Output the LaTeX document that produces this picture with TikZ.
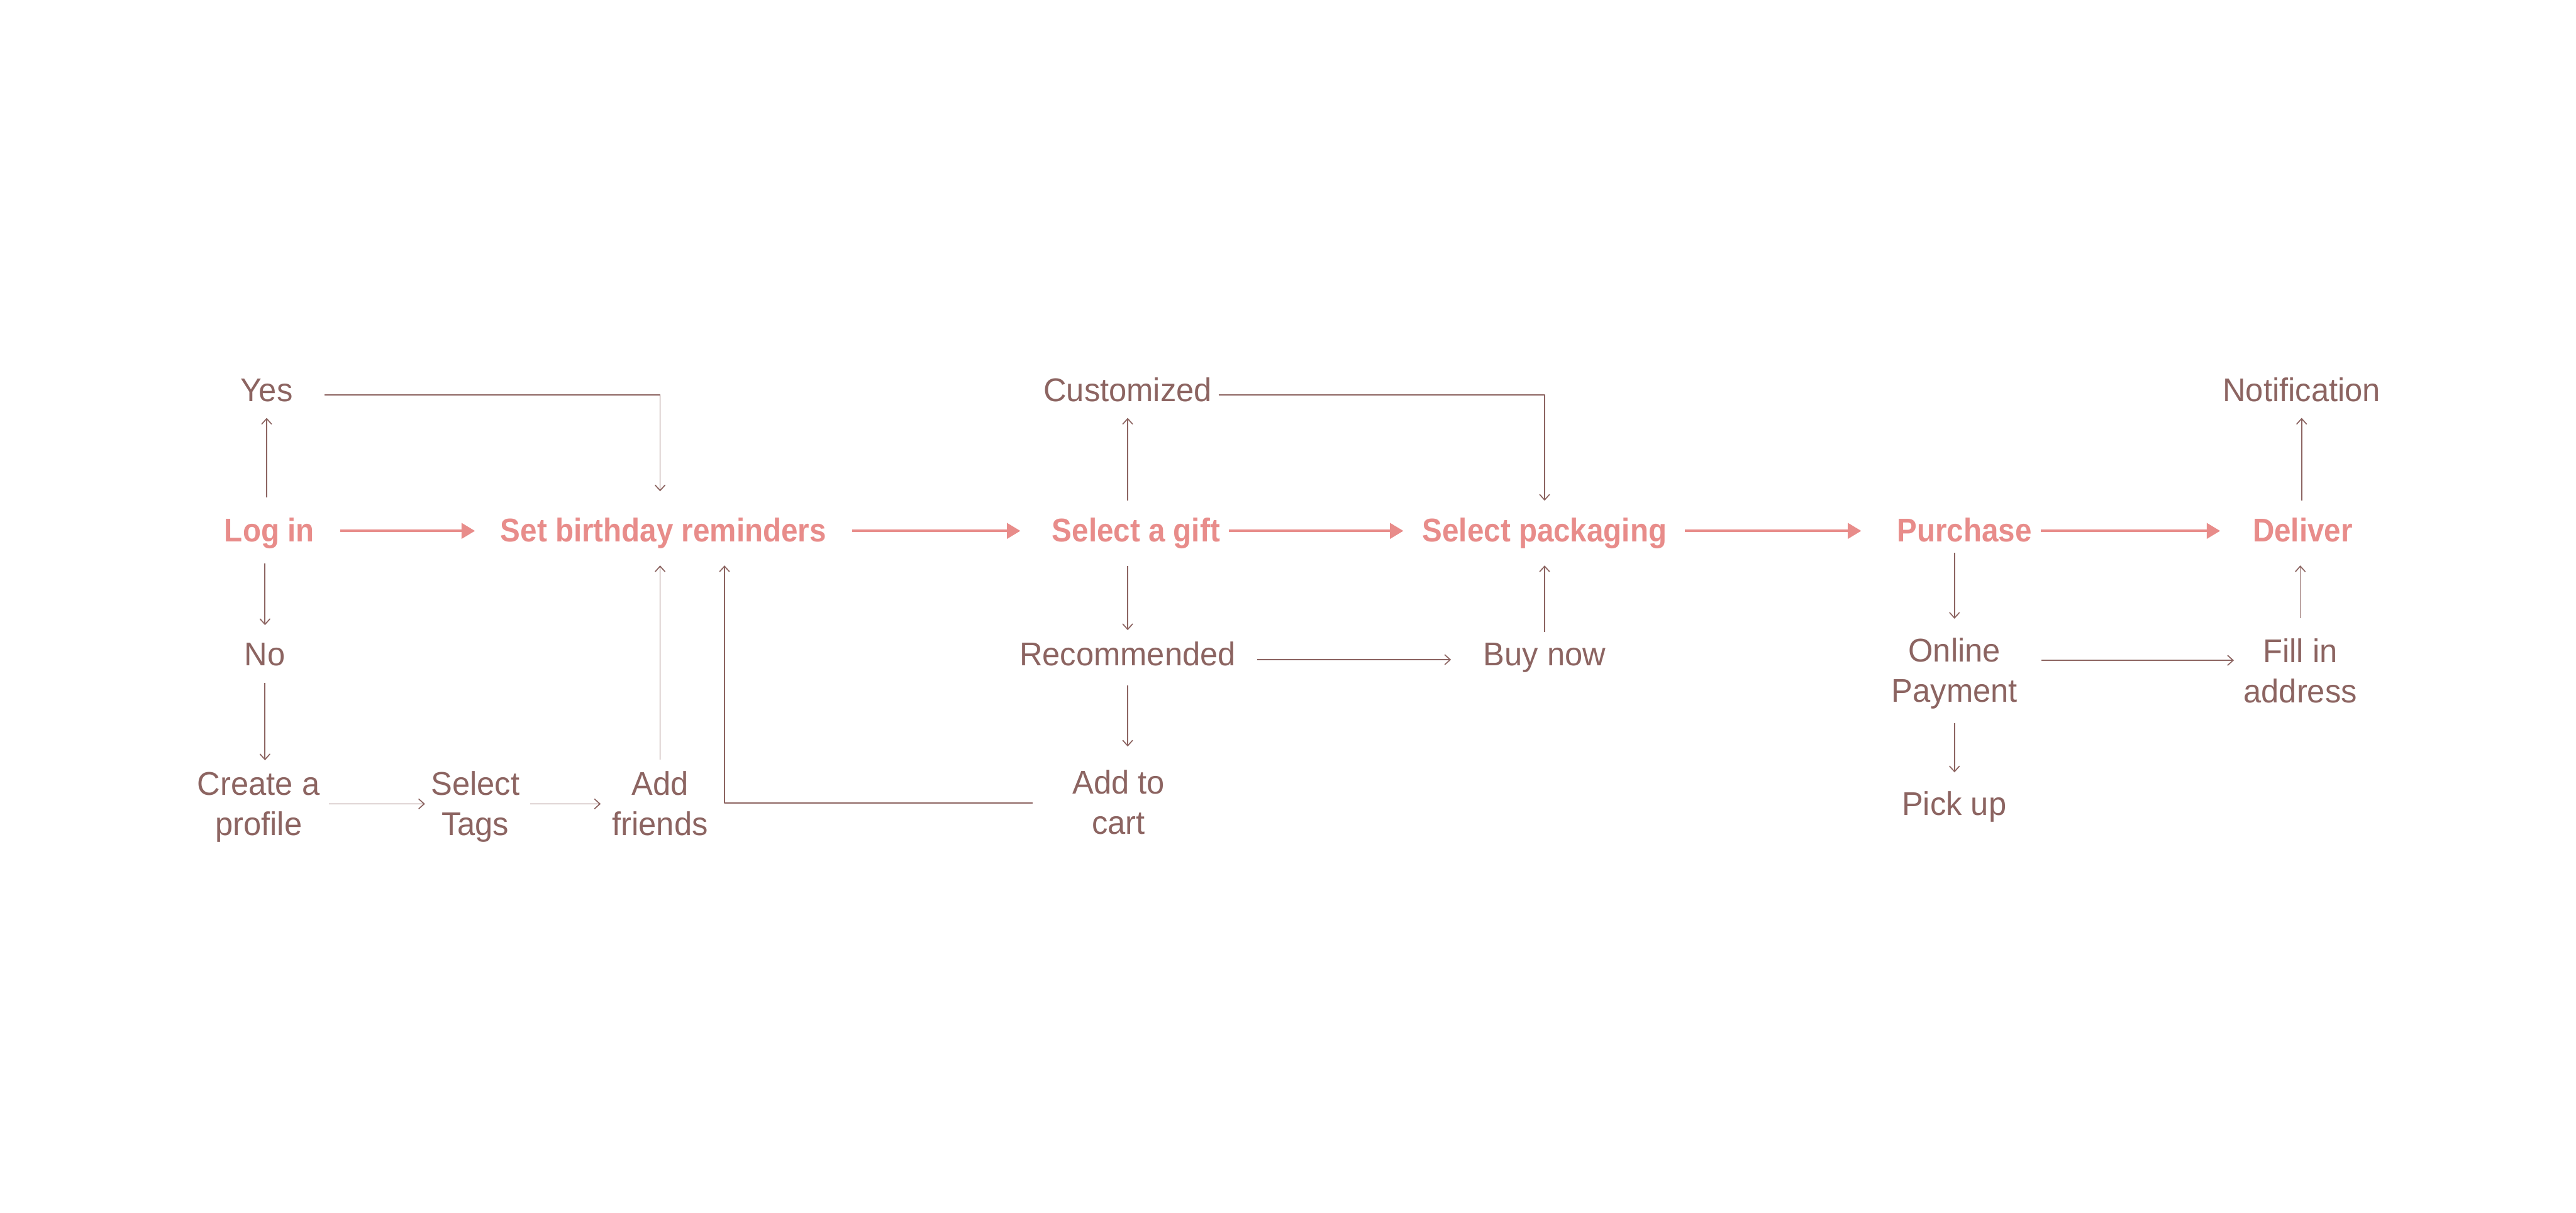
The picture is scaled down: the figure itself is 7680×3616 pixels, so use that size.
\documentclass[tikz,border=0pt]{standalone}
\usepackage{fontspec}
\setmainfont{Liberation Sans}[FakeStretch=0.97,BoldFeatures={FakeStretch=0.91}]
\usetikzlibrary{arrows.meta}
\definecolor{pinkc}{HTML}{E88C8A}
\definecolor{brownc}{HTML}{8C6461}
\tikzset{
  bt/.style={font=\fontsize{9.8pt}{12pt}\selectfont\bfseries, text=pinkc, inner sep=0pt, anchor=base},
  rt/.style={font=\fontsize{9.8pt}{12pt}\selectfont, text=brownc, inner sep=0pt, anchor=base, align=center},
  mainarr/.style={draw=pinkc, line width=0.73pt, -{Triangle[length=4pt,width=4.6pt]}},
  subarr/.style={draw=brownc, line width=0.32pt, line join=round, -{Straight Barb[length=1.6pt,width=2.9pt,line cap=round]}},
}
\begin{document}
\begin{tikzpicture}[x=0.1pt,y=-0.1pt]
\useasboundingbox[fill=white] (0,0) rectangle (7680,3616);

% top row
\node[rt] (yes)   at (795,1198)  {Yes};
\node[rt] (cust)  at (3362,1198) {Customized};
\node[rt] (notif) at (6862,1198) {Notification};
% main row
\node[bt] (login) at (803,1616)  {Log in};
\node[bt] (sbr)   at (1978,1616) {Set birthday reminders};
\node[bt] (gift)  at (3387,1616) {Select a gift};
\node[bt] (pack)  at (4605,1616) {Select packaging};
\node[bt] (purch) at (5857,1616) {Purchase};
\node[bt] (deliv) at (6865,1616) {Deliver};
% second row (multi-line nodes anchored at their last baseline)
\node[rt] (no)     at (790,1984)  {No};
\node[rt] (rec)    at (3362,1984) {Recommended};
\node[rt] (buy)    at (4605,1984) {Buy now};
\node[rt] (online) at (5827,2094) {Online\\Payment};
\node[rt] (fill)   at (6858,2096) {Fill in\\address};
% third row
\node[rt] (create) at (771,2490)  {Create a\\profile};
\node[rt] (tags)   at (1417,2490) {Select\\Tags};
\node[rt] (addf)   at (1968,2490) {Add\\friends};
\node[rt] (cart)   at (3335,2488) {Add to\\cart};
\node[rt] (pick)   at (5826,2430) {Pick up};

% main arrows
\draw[mainarr] (1014,1583) -- (1416,1583);
\draw[mainarr] (2540,1583) -- (3042,1583);
\draw[mainarr] (3663,1583) -- (4184,1583);
\draw[mainarr] (5024,1583) -- (5549,1583);
\draw[mainarr] (6085,1583) -- (6619,1583);

% log in branch
\draw[subarr] (yes |- 0,1484) -- (yes |- 0,1246);
\draw[subarr] (968,1178) -| (addf |- 0,1465);
\draw[subarr] (no |- 0,1680) -- (no |- 0,1864);
\draw[subarr] (no |- 0,2037) -- (no |- 0,2267);
\draw[subarr] (980,2397) -- (1267,2397);
\draw[subarr] (1580,2397) -- (1791,2397);
\draw[subarr] (addf |- 0,2265) -- (addf |- 0,1686);
\draw[subarr] (3078,2395) -| (2160,1686);

% gift branch
\draw[subarr] (cust |- 0,1492) -- (cust |- 0,1246);
\draw[subarr] (3633,1178) -| (buy |- 0,1493);
\draw[subarr] (rec |- 0,1688) -- (rec |- 0,1879);
\draw[subarr] (rec |- 0,2044) -- (rec |- 0,2226);
\draw[subarr] (3748,1967) -- (4326,1967);
\draw[subarr] (buy |- 0,1884) -- (buy |- 0,1686);

% purchase branch
\draw[subarr] (online |- 0,1648) -- (online |- 0,1845);
\draw[subarr] (6086,1969) -- (6660,1969);
\draw[subarr] (fill |- 0,1844) -- (fill |- 0,1686);
\draw[subarr] (notif |- 0,1492) -- (notif |- 0,1246);
\draw[subarr] (online |- 0,2157) -- (online |- 0,2303);
\end{tikzpicture}
\end{document}
